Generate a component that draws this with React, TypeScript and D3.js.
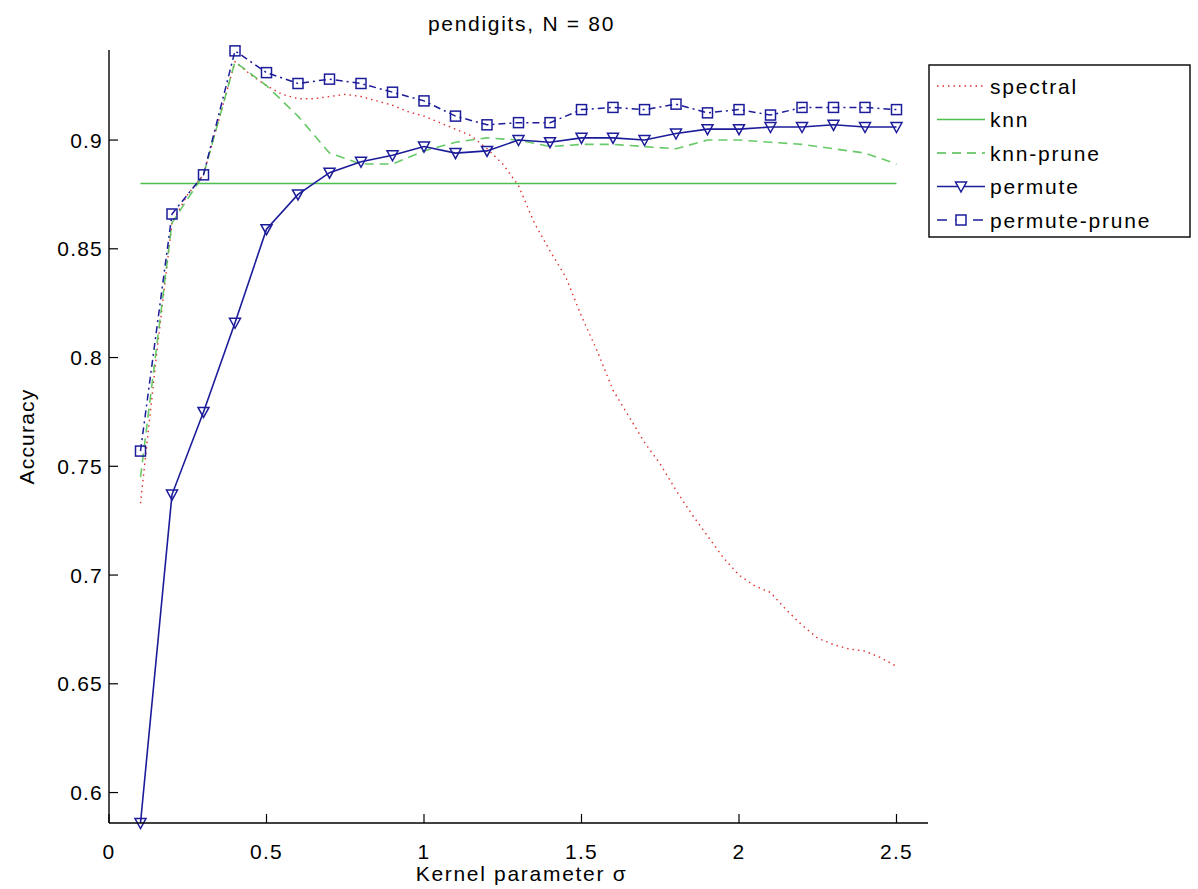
import React from "react";
import * as d3 from "d3";

const titleText = "pendigits, N = 80";
const xLabel = "Kernel parameter σ";
const yLabel = "Accuracy";

const xTicks = [0, 0.5, 1, 1.5, 2, 2.5];
const xTickLabels = ["0", "0.5", "1", "1.5", "2", "2.5"];
const yTicks = [0.6, 0.65, 0.7, 0.75, 0.8, 0.85, 0.9];
const yTickLabels = ["0.6", "0.65", "0.7", "0.75", "0.8", "0.85", "0.9"];

const sigma = [0.1, 0.2, 0.3, 0.4, 0.5, 0.6, 0.7, 0.8, 0.9, 1.0, 1.1, 1.2, 1.3, 1.4, 1.5, 1.6, 1.7, 1.8, 1.9, 2.0, 2.1, 2.2, 2.3, 2.4, 2.5];

const sigmaFine = [0.1, 0.15, 0.2, 0.25, 0.3, 0.35, 0.4, 0.45, 0.5, 0.55, 0.6, 0.65, 0.7, 0.75, 0.8, 0.85, 0.9, 0.95, 1.0, 1.05, 1.1, 1.15, 1.2, 1.25, 1.3, 1.35, 1.4, 1.45, 1.5, 1.55, 1.6, 1.65, 1.7, 1.75, 1.8, 1.85, 1.9, 1.95, 2.0, 2.05, 2.1, 2.15, 2.2, 2.25, 2.3, 2.35, 2.4, 2.45, 2.5];

const spectral = [0.733, 0.8, 0.862, 0.875, 0.884, 0.91, 0.936, 0.93, 0.925, 0.921, 0.919, 0.919, 0.92, 0.921, 0.92, 0.918, 0.916, 0.913, 0.911, 0.908, 0.905, 0.902, 0.896, 0.889, 0.879, 0.862, 0.849, 0.837, 0.819, 0.803, 0.785, 0.773, 0.761, 0.751, 0.739, 0.728, 0.718, 0.708, 0.7, 0.695, 0.692, 0.684, 0.677, 0.671, 0.668, 0.666, 0.665, 0.662, 0.658];

const knnValue = 0.88;

const knnPrune = [0.745, 0.862, 0.884, 0.936, 0.925, 0.911, 0.894, 0.889, 0.889, 0.895, 0.899, 0.901, 0.9, 0.897, 0.898, 0.898, 0.897, 0.896, 0.9, 0.9, 0.899, 0.898, 0.896, 0.894, 0.889];

const permute = [0.586, 0.737, 0.775, 0.816, 0.859, 0.875, 0.885, 0.89, 0.893, 0.897, 0.894, 0.895, 0.9, 0.899, 0.901, 0.901, 0.9, 0.903, 0.905, 0.905, 0.906, 0.906, 0.907, 0.906, 0.906];

const permutePrune = [0.757, 0.866, 0.884, 0.941, 0.931, 0.926, 0.928, 0.926, 0.922, 0.918, 0.911, 0.907, 0.908, 0.908, 0.914, 0.915, 0.914, 0.9165, 0.9125, 0.914, 0.9115, 0.915, 0.915, 0.915, 0.914];

const legendNames = ["spectral", "knn", "knn-prune", "permute", "permute-prune"];

const RED = "#e03030";
const GREEN = "#4cbf4c";
const BLUE = "#1c1c9a";
const FONT = "'Liberation Sans', Arial, Helvetica, sans-serif";

function triPath(cx: number, cy: number) {
  const w = 5.5;
  return `M${cx - w},${cy - 4.5}L${cx + w},${cy - 4.5}L${cx},${cy + 5.5}Z`;
}

export default function App() {
  const x = d3.scaleLinear().domain([0, 2.6]).range([109, 928]);
  const y = d3.scaleLinear().domain([0.586, 0.9414]).range([823, 50]);

  const line = d3
    .line<[number, number]>()
    .x((d) => x(d[0]))
    .y((d) => y(d[1]));

  const spectralPts = sigmaFine.map((s, i) => [s, spectral[i]] as [number, number]);
  const knnPts = [[sigma[0], knnValue], [sigma[sigma.length - 1], knnValue]] as [number, number][];
  const knnPrunePts = sigma.map((s, i) => [s, knnPrune[i]] as [number, number]);
  const permutePts = sigma.map((s, i) => [s, permute[i]] as [number, number]);
  const permutePrunePts = sigma.map((s, i) => [s, permutePrune[i]] as [number, number]);

  const x0 = x.range()[0];
  const x1 = x.range()[1];
  const yb = y.range()[0];
  const yt = y.range()[1];

  const legX = 929;
  const legY = 65;
  const legW = 261;
  const legH = 172;
  const rowH = 33.5;
  const sampleX0 = 937;
  const sampleX1 = 985;
  const textX = 990;

  const textStyle: React.CSSProperties = { fontFamily: FONT, fontSize: 21, letterSpacing: 1.2 };
  const wideStyle: React.CSSProperties = { fontFamily: FONT, fontSize: 21, letterSpacing: 1.7 };

  return (
    <svg
      width={1198}
      height={889}
      style={{ position: "absolute", left: 0, top: 0, background: "#fff" }}
    >
      <rect x={0} y={0} width={1198} height={889} fill="#fff" />
      {/* title */}
      <text x={(x0 + x1) / 2 + 3} y={31} textAnchor="middle" fill="#000" style={wideStyle}>
        {titleText}
      </text>

      {/* series */}
      <path d={line(spectralPts) || ""} fill="none" stroke={RED} strokeWidth={1.4} strokeDasharray="1.5,4" />
      <path d={line(knnPts) || ""} fill="none" stroke={GREEN} strokeWidth={1.6} />
      <path d={line(knnPrunePts) || ""} fill="none" stroke={GREEN} strokeWidth={1.6} strokeDasharray="9,6" opacity={0.85} />
      <path d={line(permutePts) || ""} fill="none" stroke={BLUE} strokeWidth={1.6} />
      {permutePts.map((p, i) => (
        <path key={"t" + i} d={triPath(x(p[0]), y(p[1]))} fill="none" stroke={BLUE} strokeWidth={1.5} />
      ))}
      <path d={line(permutePrunePts) || ""} fill="none" stroke={BLUE} strokeWidth={1.5} strokeDasharray="7,4,2,4" />
      {permutePrunePts.map((p, i) => (
        <rect key={"s" + i} x={x(p[0]) - 5} y={y(p[1]) - 5} width={10} height={10} fill="none" stroke={BLUE} strokeWidth={1.5} />
      ))}

      {/* axes */}
      <line x1={x0} y1={yb} x2={x1} y2={yb} stroke="#000" strokeWidth={1.4} />
      <line x1={x0} y1={yb} x2={x0} y2={yt} stroke="#000" strokeWidth={1.4} />
      {xTicks.map((t, i) => (
        <g key={"xt" + i}>
          <line x1={x(t)} y1={yb} x2={x(t)} y2={yb - 9} stroke="#000" strokeWidth={1.2} />
          <text x={x(t)} y={859} textAnchor="middle" fill="#000" style={textStyle}>
            {xTickLabels[i]}
          </text>
        </g>
      ))}
      {yTicks.map((t, i) => (
        <g key={"yt" + i}>
          <line x1={x0} y1={y(t)} x2={x0 + 9} y2={y(t)} stroke="#000" strokeWidth={1.2} />
          <text x={103} y={y(t) + 7.5} textAnchor="end" fill="#000" style={textStyle}>
            {yTickLabels[i]}
          </text>
        </g>
      ))}

      {/* axis labels */}
      <text x={(x0 + x1) / 2 + 3} y={881} textAnchor="middle" fill="#000" style={wideStyle}>
        {xLabel}
      </text>
      <text
        transform={`translate(34, ${(yb + yt) / 2}) rotate(-90)`}
        textAnchor="middle"
        fill="#000"
        style={textStyle}
      >
        {yLabel}
      </text>

      {/* legend */}
      <rect x={legX} y={legY} width={legW} height={legH} fill="#fff" stroke="#000" strokeWidth={1.4} />
      {legendNames.map((name, i) => {
        const cy = legY + 21 + i * rowH;
        const mid = (sampleX0 + sampleX1) / 2;
        return (
          <g key={"lg" + i}>
            {i === 0 && (
              <line x1={sampleX0} y1={cy} x2={sampleX1} y2={cy} stroke={RED} strokeWidth={1.4} strokeDasharray="1.5,4" />
            )}
            {i === 1 && <line x1={sampleX0} y1={cy} x2={sampleX1} y2={cy} stroke={GREEN} strokeWidth={1.6} />}
            {i === 2 && (
              <line x1={sampleX0} y1={cy} x2={sampleX1} y2={cy} stroke={GREEN} strokeWidth={1.6} strokeDasharray="9,6" />
            )}
            {i === 3 && (
              <g>
                <line x1={sampleX0} y1={cy} x2={sampleX1} y2={cy} stroke={BLUE} strokeWidth={1.6} />
                <path d={triPath(mid, cy)} fill="#fff" stroke={BLUE} strokeWidth={1.5} />
              </g>
            )}
            {i === 4 && (
              <g>
                <line x1={sampleX0} y1={cy} x2={sampleX1} y2={cy} stroke={BLUE} strokeWidth={1.5} strokeDasharray="10,8" />
                <rect x={mid - 5} y={cy - 5} width={10} height={10} fill="#fff" stroke={BLUE} strokeWidth={1.5} />
              </g>
            )}
            <text x={textX} y={cy + 7.5} fill="#000" style={{ ...textStyle, letterSpacing: 1.8 }}>
              {name}
            </text>
          </g>
        );
      })}
    </svg>
  );
}
